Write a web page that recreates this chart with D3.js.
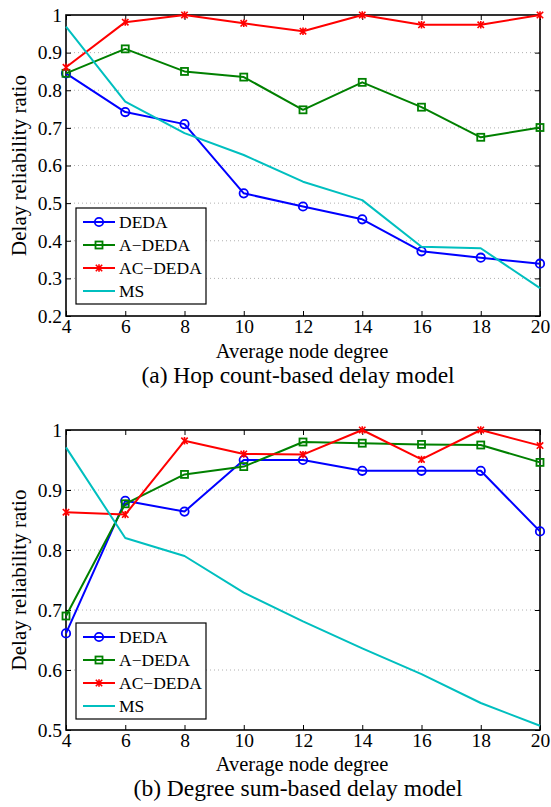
<!DOCTYPE html>
<html>
<head>
<meta charset="utf-8">
<script src="https://cdn.jsdelivr.net/npm/d3@7"></script>
<style>
  html, body { margin: 0; padding: 0; background: #fff; }
  svg { display: block; }
</style>
</head>
<body>
<svg id="fig" width="551" height="807"></svg>
<script>
// Average node degree (x axis)
const degrees = [4, 6, 8, 10, 12, 14, 16, 18, 20];
const xTicks = [4, 6, 8, 10, 12, 14, 16, 18, 20];

// (a) Hop count-based delay model
const hopDEDA   = [0.845, 0.742, 0.710, 0.526, 0.491, 0.457, 0.372, 0.355, 0.339];
const hopADEDA  = [0.845, 0.910, 0.850, 0.835, 0.748, 0.821, 0.755, 0.675, 0.701];
const hopACDEDA = [0.861, 0.981, 1.000, 0.978, 0.957, 1.000, 0.974, 0.974, 1.000];
const hopMS     = [0.969, 0.770, 0.686, 0.628, 0.557, 0.508, 0.384, 0.380, 0.274];
const hopYTicks = [0.2, 0.3, 0.4, 0.5, 0.6, 0.7, 0.8, 0.9, 1];

// (b) Degree sum-based delay model
const sumDEDA   = [0.661, 0.882, 0.864, 0.950, 0.950, 0.932, 0.932, 0.932, 0.831];
const sumADEDA  = [0.690, 0.877, 0.926, 0.939, 0.980, 0.978, 0.976, 0.975, 0.946];
const sumACDEDA = [0.863, 0.859, 0.982, 0.960, 0.959, 1.000, 0.951, 1.000, 0.974];
const sumMS     = [0.971, 0.820, 0.790, 0.729, 0.681, 0.636, 0.593, 0.545, 0.507];
const sumYTicks = [0.5, 0.6, 0.7, 0.8, 0.9, 1];

const seriesNames = ["DEDA", "A\u2212DEDA", "AC\u2212DEDA", "MS"];
const seriesColors = ["#0000ff", "#008000", "#ff0000", "#00bfbf"];
const seriesMarkers = ["circle", "square", "star", "none"];

const FONT = "'Liberation Serif', 'Times New Roman', 'DejaVu Serif', serif";
const svg = d3.select("#fig");

function drawMarker(g, type, x, y, color) {
  if (type === "circle") {
    g.append("circle").attr("cx", x).attr("cy", y).attr("r", 4.2)
      .attr("fill", "none").attr("stroke", color).attr("stroke-width", 1.8);
  } else if (type === "square") {
    g.append("rect").attr("x", x - 3.5).attr("y", y - 3.5).attr("width", 7).attr("height", 7)
      .attr("fill", "none").attr("stroke", color).attr("stroke-width", 1.8);
  } else if (type === "star") {
    const s = 3.2;
    g.append("path")
      .attr("d", `M${x - s},${y - s}L${x + s},${y + s}M${x - s},${y + s}L${x + s},${y - s}M${x},${y - s - 0.5}L${x},${y + s + 0.5}`)
      .attr("stroke", color).attr("stroke-width", 1.6).attr("fill", "none");
  }
}

function label(sel, size) {
  return sel.style("font-family", FONT).style("font-size", size + "px").attr("fill", "#000");
}

function drawPanel(opts) {
  const { top, bottom, left, right, yDomain, yTicks, series, legendTop, xTitleY, captionY, caption } = opts;
  const x = d3.scaleLinear().domain([4, 20]).range([left, right]);
  const y = d3.scaleLinear().domain(yDomain).range([bottom, top]);
  const g = svg.append("g");

  // horizontal dotted grid
  g.append("g").selectAll("line").data(yTicks.slice(1, -1)).join("line")
    .attr("x1", left).attr("x2", right)
    .attr("y1", d => y(d)).attr("y2", d => y(d))
    .attr("stroke", "#b0b0b0").attr("stroke-width", 1).attr("stroke-dasharray", "1,3");

  // axes with inward ticks on all four sides
  const fmt = d => (d === 1 ? "1" : d3.format(".1f")(d));
  const bottomAxis = d3.axisBottom(x).tickValues(xTicks).tickSize(-5).tickPadding(3).tickFormat(d3.format("d"));
  const topAxis = d3.axisTop(x).tickValues(xTicks).tickSize(-5).tickFormat("");
  const leftAxis = d3.axisLeft(y).tickValues(yTicks).tickSize(-5).tickPadding(4).tickFormat(fmt);
  const rightAxis = d3.axisRight(y).tickValues(yTicks).tickSize(-5).tickFormat("");

  const axes = [
    g.append("g").attr("transform", `translate(0,${bottom})`).call(bottomAxis),
    g.append("g").attr("transform", `translate(0,${top})`).call(topAxis),
    g.append("g").attr("transform", `translate(${left},0)`).call(leftAxis),
    g.append("g").attr("transform", `translate(${right},0)`).call(rightAxis)
  ];
  axes.forEach(a => {
    a.attr("font-family", null).attr("font-size", null);
    a.select(".domain").remove();
    a.selectAll(".tick line").attr("stroke", "#000").attr("stroke-width", 1);
    label(a.selectAll(".tick text"), 19.5);
  });

  // box
  g.append("rect").attr("x", left).attr("y", top).attr("width", right - left).attr("height", bottom - top)
    .attr("fill", "none").attr("stroke", "#000").attr("stroke-width", 1.6);

  // series lines + markers
  series.forEach((vals, i) => {
    const pts = degrees.map((d, k) => [x(d), y(vals[k])]);
    g.append("path").attr("d", d3.line()(pts))
      .attr("fill", "none").attr("stroke", seriesColors[i]).attr("stroke-width", 2)
      .attr("stroke-linejoin", "round");
    const mg = g.append("g");
    pts.forEach(p => drawMarker(mg, seriesMarkers[i], p[0], p[1], seriesColors[i]));
  });

  // legend
  const lx = 76, lw = 130, lh = 96;
  const lg = g.append("g").attr("transform", `translate(${lx},${legendTop})`);
  lg.append("rect").attr("width", lw).attr("height", lh).attr("fill", "#fff")
    .attr("stroke", "#000").attr("stroke-width", 1.2);
  seriesNames.forEach((name, i) => {
    const ey = 14 + i * 23;
    lg.append("line").attr("x1", 7).attr("x2", 39).attr("y1", ey).attr("y2", ey)
      .attr("stroke", seriesColors[i]).attr("stroke-width", 2);
    drawMarker(lg, seriesMarkers[i], 23, ey, seriesColors[i]);
    label(lg.append("text").attr("x", 43).attr("y", ey + 6), 17.5).text(name);
  });

  // axis titles + caption
  const cx = (left + right) / 2;
  label(g.append("text").attr("x", cx - 1).attr("y", xTitleY).attr("text-anchor", "middle"), 20.5)
    .text("Average node degree");
  label(g.append("text").attr("transform", `translate(26,${(top + bottom) / 2}) rotate(-90)`)
    .attr("text-anchor", "middle"), 21).text("Delay reliability ratio");
  label(g.append("text").attr("x", cx - 5).attr("y", captionY).attr("text-anchor", "middle"), 23.5)
    .text(caption);
}

drawPanel({
  top: 15, bottom: 316, left: 66, right: 540,
  yDomain: [0.2, 1], yTicks: hopYTicks,
  series: [hopDEDA, hopADEDA, hopACDEDA, hopMS],
  legendTop: 208, xTitleY: 358, captionY: 383,
  caption: "(a) Hop count-based delay model"
});

drawPanel({
  top: 430, bottom: 730, left: 66, right: 540,
  yDomain: [0.5, 1], yTicks: sumYTicks,
  series: [sumDEDA, sumADEDA, sumACDEDA, sumMS],
  legendTop: 623, xTitleY: 771, captionY: 796,
  caption: "(b) Degree sum-based delay model"
});
</script>
</body>
</html>
